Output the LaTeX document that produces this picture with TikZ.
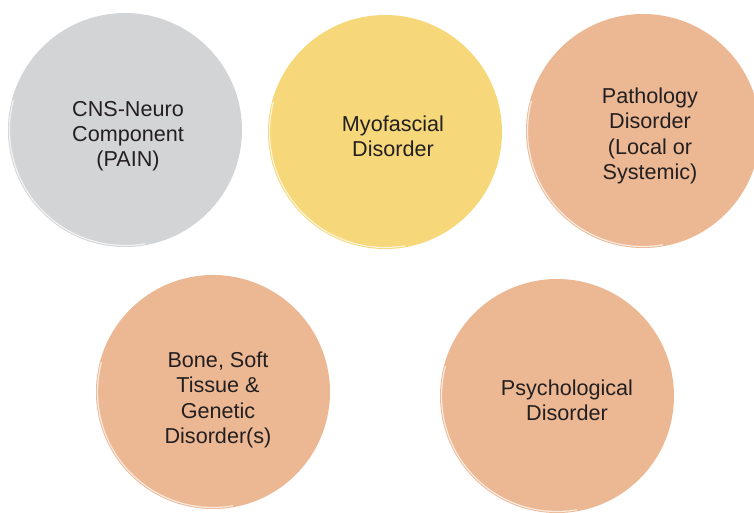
\documentclass[tikz,border=0pt]{standalone}
\usepackage{fontspec}
\setmainfont{Liberation Sans}
\usetikzlibrary{positioning}

\definecolor{cnsgray}{RGB}{211,212,214}
\definecolor{myoyellow}{RGB}{246,216,122}
\definecolor{peach}{RGB}{236,184,148}
\definecolor{inktext}{RGB}{35,31,32}

\tikzset{
	disc/.style={circle, minimum size=117pt, inner sep=0pt},
	disctext/.style={align=center, text=inktext, font=\fontsize{10.8}{12.6}\selectfont},
	rim/.style={white, line width=0.6pt, opacity=0.7},
}

\begin{document}
\begin{tikzpicture}[x=0.5pt, y=-0.5pt]
		\useasboundingbox (0,0) rectangle (754,513);
		% circles
		\node [disc, fill=cnsgray] (cns) at (125,130) {};
		\node [disc, fill=myoyellow] (myo) at (385,132) {};
		\node [disc, fill=peach] (patho) at (643,131) {};
		\node [disc, fill=peach] (bone) at (213,392) {};
		\node [disc, fill=peach] (psych) at (557,396) {};
		
		% glossy rim on the lower left
		\foreach \c in {cns,myo,patho,bone,psych}
			\draw [rim] ([shift={(-165:115.5)}]\c.center) arc [start angle=-165, end angle=-280, radius=115.5];
		
		% labels
		\node [disctext] (cnstext) at (128,136) {CNS-Neuro\\Component\\(PAIN)};
		\node [disctext] (myotext) at (393,136) {Myofascial\\Disorder};
		\node [disctext] (pathotext) at (650,136) {Pathology\\Disorder\\(Local or\\Systemic)};
		\node [disctext] (bonetext) at (218,400) {Bone, Soft\\Tissue \&\\Genetic\\Disorder(s)};
		\node [disctext] (psychtext) at (567,400) {Psychological\\Disorder};
	\end{tikzpicture}
\end{document}
